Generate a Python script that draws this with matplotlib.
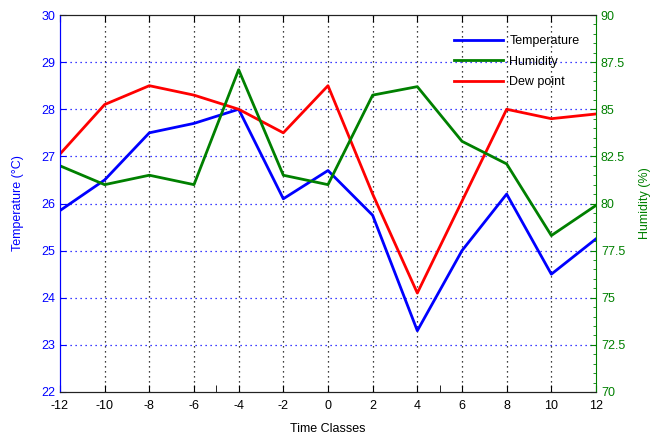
import numpy as np
import matplotlib
matplotlib.use("Agg")
import matplotlib.pyplot as plt
from matplotlib.lines import Line2D

# Time classes on the x axis
time_classes = [-12, -10, -8, -6, -4, -2, 0, 2, 4, 6, 8, 10, 12]

# Values
temperature = [25.85, 26.5, 27.5, 27.7, 28.0, 26.1, 26.7, 25.75, 23.3, 25.0, 26.2, 24.5, 25.25]
dew_point = [27.05, 28.1, 28.5, 28.3, 28.0, 27.5, 28.5, 26.2, 24.1, 26.05, 28.0, 27.8, 27.9]
humidity = [82.0, 81.0, 81.5, 81.0, 87.1, 81.5, 81.0, 85.75, 86.2, 83.3, 82.1, 78.3, 79.9]

x_ticks = list(range(-12, 13, 2))
temp_ticks = list(range(22, 31))
hum_ticks = [70, 72.5, 75, 77.5, 80, 82.5, 85, 87.5, 90]

plt.rcParams['font.family'] = ['Liberation Sans', 'DejaVu Sans']
plt.rcParams['font.size'] = 9
plt.rcParams['axes.unicode_minus'] = False

fig = plt.figure(figsize=(6.62, 4.34), dpi=100)
ax = fig.add_axes([0.0906, 0.0968, 0.8097, 0.8686])
ax2 = ax.twinx()

ax.plot(time_classes, temperature, color='#0000ff', lw=2)
ax.plot(time_classes, dew_point, color='#ff0000', lw=2)
ax2.plot(time_classes, humidity, color='#008000', lw=2)

ax.set_xlim(-12, 12)
ax.set_ylim(22, 30)
ax2.set_ylim(70, 90)
ax.set_xticks(x_ticks)
ax.set_xticks([-5, 5], minor=True)
ax.set_yticks(temp_ticks)
ax2.set_yticks(hum_ticks)
ax2.set_yticks(np.arange(70, 90.01, 0.5), minor=True)
ax2.set_yticklabels(['70', '72.5', '75', '77.5', '80', '82.5', '85', '87.5', '90'])

# grid: black dotted verticals, blue dotted horizontals
for xv in x_ticks[1:-1]:
    ax.axvline(xv, color='black', ls=(0, (1, 3)), lw=0.9, zorder=0)
for yv in temp_ticks[1:-1]:
    ax.axhline(yv, color='#0000ff', ls=(0, (1, 3)), lw=0.9, zorder=0)

ax.tick_params(axis='x', direction='in', top=True, length=5, colors='black', labelsize=9, pad=6)
ax.tick_params(axis='x', which='minor', direction='in', top=False, length=5)
ax.tick_params(axis='y', direction='in', length=4, colors='#0000ff', labelsize=9)
ax2.tick_params(axis='y', direction='in', length=4, colors='#008000', labelsize=9)
ax2.tick_params(axis='y', which='minor', direction='in', length=2, colors='#008000')

ax.spines['left'].set_color('#0000ff')
ax2.spines['left'].set_color('#0000ff')
ax2.spines['right'].set_color('#008000')
ax.spines['right'].set_visible(False)
for a in (ax, ax2):
    a.spines['top'].set_color('#222222')
    a.spines['bottom'].set_color('#222222')

ax.set_xlabel('Time Classes', fontsize=9, labelpad=8)
ax.set_ylabel('Temperature (°C)', color='#0000ff', fontsize=9, labelpad=12)
ax2.set_ylabel('Humidity (%)', color='#008000', fontsize=9, labelpad=10)

handles = [Line2D([], [], color='#0000ff', lw=2),
           Line2D([], [], color='#008000', lw=2),
           Line2D([], [], color='#ff0000', lw=2)]
leg = ax2.legend(handles, ['Temperature', 'Humidity', 'Dew point'],
                 loc='upper right', bbox_to_anchor=(0.99, 0.977), frameon=False,
                 fontsize=9, handlelength=3.9, handletextpad=0.5, labelspacing=0.7)

fig.savefig('out.png', dpi=100)
